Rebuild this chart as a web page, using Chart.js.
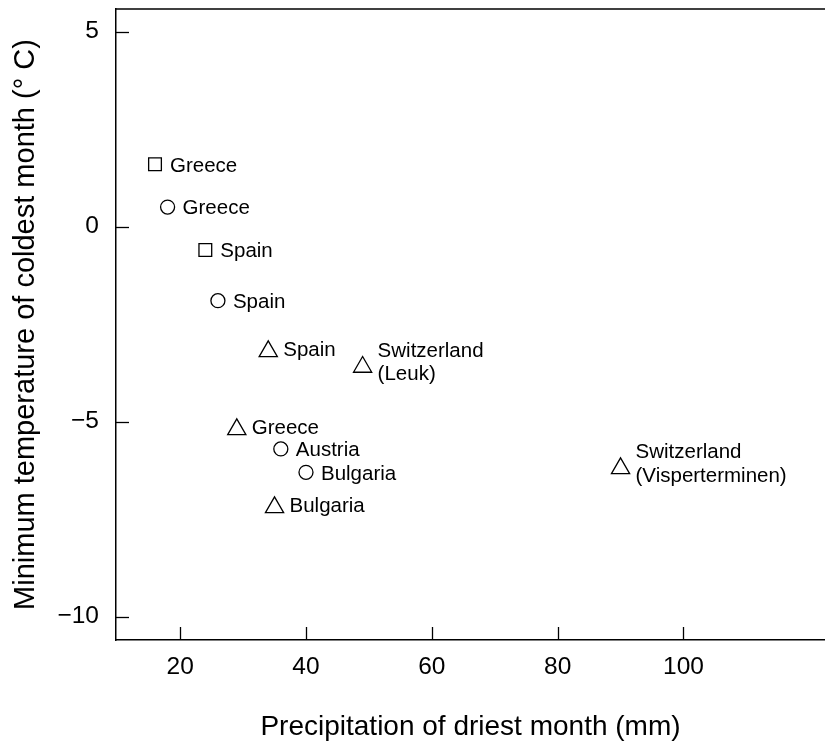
<!DOCTYPE html>
<html>
<head>
<meta charset="utf-8">
<script src="https://cdn.jsdelivr.net/npm/chart.js@4/dist/chart.umd.min.js"></script>
<style>
  html, body { margin: 0; padding: 0; background: #ffffff; }
  #wrap { width: 825px; height: 743px; }
</style>
</head>
<body>
<div id="wrap"><canvas id="c" width="825" height="743"></canvas></div>
<script>
// ---- data ----
const squareX = [16, 24];
const squareY = [1.6, -0.6];
const squareLabels = [["Greece"], ["Spain"]];

const circleX = [18, 26, 36, 40];
const circleY = [0.5, -1.9, -5.7, -6.3];
const circleLabels = [["Greece"], ["Spain"], ["Austria"], ["Bulgaria"]];

const triangleX = [34, 49, 29, 35, 90];
const triangleY = [-3.2, -3.6, -5.2, -7.2, -6.2];
const triangleLabels = [["Spain"], ["Switzerland", "(Leuk)"], ["Greece"], ["Bulgaria"], ["Switzerland", "(Visperterminen)"]];

const xTicks = [20, 40, 60, 80, 100];
const yTicks = [-10, -5, 0, 5];
const xTitle = "Precipitation of driest month (mm)";
const yTitle = "Minimum temperature of coldest month (° C)";

const FONT = "'Liberation Sans', Arial, Helvetica, sans-serif";
Chart.defaults.font.family = FONT;
Chart.defaults.color = '#000';

function pts(xs, ys) { return xs.map((x, i) => ({ x: x, y: ys[i] })); }

const labelPlugin = {
  id: 'pointLabels',
  afterDatasetsDraw(chart) {
    const ctx = chart.ctx;
    const fs = 20.5;
    ctx.save();
    ctx.fillStyle = '#000';
    ctx.font = fs + 'px ' + FONT;
    ctx.textAlign = 'left';
    ctx.textBaseline = 'alphabetic';
    chart.data.datasets.forEach((ds, di) => {
      const meta = chart.getDatasetMeta(di);
      meta.data.forEach((el, i) => {
        const lines = ds.labels[i];
        let vc = el.y;
        if (ds.pointStyle === 'triangle') vc = el.y - 0.25 * ds.pointRadius;
        const tx = el.x + 15;
        if (lines.length === 1) {
          ctx.fillText(lines[0], tx, vc + 0.358 * fs);
        } else {
          ctx.fillText(lines[0], tx, vc - 15 + 0.358 * fs);
          ctx.fillText(lines[1], tx, vc + 8.5 + 0.358 * fs);
        }
      });
    });
    ctx.restore();
  }
};

const framePlugin = {
  id: 'frame',
  afterDraw(chart) {
    const ctx = chart.ctx;
    const a = chart.chartArea;
    const xs = chart.scales.x, ys = chart.scales.y;
    ctx.save();
    ctx.strokeStyle = '#000';
    ctx.lineWidth = 1.5;
    ctx.beginPath();
    ctx.moveTo(a.left, a.top);
    ctx.lineTo(a.right, a.top);
    ctx.stroke();
    ctx.lineWidth = 1.3;
    ys.ticks.forEach(t => {
      const py = Math.round(ys.getPixelForValue(t.value)) + 0.5;
      ctx.beginPath();
      ctx.moveTo(a.left, py);
      ctx.lineTo(a.left + 13, py);
      ctx.stroke();
    });
    xs.ticks.forEach(t => {
      const px = Math.round(xs.getPixelForValue(t.value)) + 0.5;
      ctx.beginPath();
      ctx.moveTo(px, a.bottom);
      ctx.lineTo(px, a.bottom - 13);
      ctx.stroke();
    });
    ctx.restore();
  }
};

const common = { backgroundColor: 'rgba(255,255,255,0)', borderColor: '#000', borderWidth: 1.3, showLine: false };

new Chart(document.getElementById('c'), {
  type: 'scatter',
  data: {
    datasets: [
      Object.assign({ label: 'square', data: pts(squareX, squareY), labels: squareLabels, pointStyle: 'rect', pointRadius: 9 }, common),
      Object.assign({ label: 'circle', data: pts(circleX, circleY), labels: circleLabels, pointStyle: 'circle', pointRadius: 7 }, common),
      Object.assign({ label: 'triangle', data: pts(triangleX, triangleY), labels: triangleLabels, pointStyle: 'triangle', pointRadius: 10.5 }, common)
    ]
  },
  options: {
    responsive: false,
    devicePixelRatio: 1,
    animation: false,
    layout: { autoPadding: false, padding: { top: 9, left: 0, right: 0, bottom: 0 } },
    plugins: { legend: { display: false }, tooltip: { enabled: false } },
    scales: {
      x: {
        type: 'linear',
        position: 'bottom',
        min: 9.8,
        max: 122.5,
        afterBuildTicks(scale) { scale.ticks = xTicks.map(v => ({ value: v })); },
        afterFit(scale) { scale.height = 103; scale.paddingLeft = 0; scale.paddingRight = 0; },
        grid: { display: false, drawTicks: false },
        border: { display: true, color: '#000', width: 1.5 },
        ticks: { font: { size: 24.5 }, color: '#000', padding: 13, maxRotation: 0 },
        title: { display: true, text: xTitle, font: { size: 28 }, color: '#000', padding: { top: 0, bottom: -1 } }
      },
      y: {
        type: 'linear',
        position: 'left',
        min: -10.6,
        max: 5.58,
        afterBuildTicks(scale) { scale.ticks = yTicks.map(v => ({ value: v })); },
        afterFit(scale) { scale.width = 116; scale.paddingTop = 0; scale.paddingBottom = 0; },
        grid: { display: false, drawTicks: false },
        border: { display: true, color: '#000', width: 1.5 },
        ticks: { font: { size: 24.5 }, color: '#000', padding: 17, callback: v => String(v).replace('-', '\u2212') },
        title: { display: true, text: yTitle, font: { size: 29 }, color: '#000', padding: { top: 8.5, bottom: 0 } }
      }
    }
  },
  plugins: [labelPlugin, framePlugin]
});
</script>
</body>
</html>
